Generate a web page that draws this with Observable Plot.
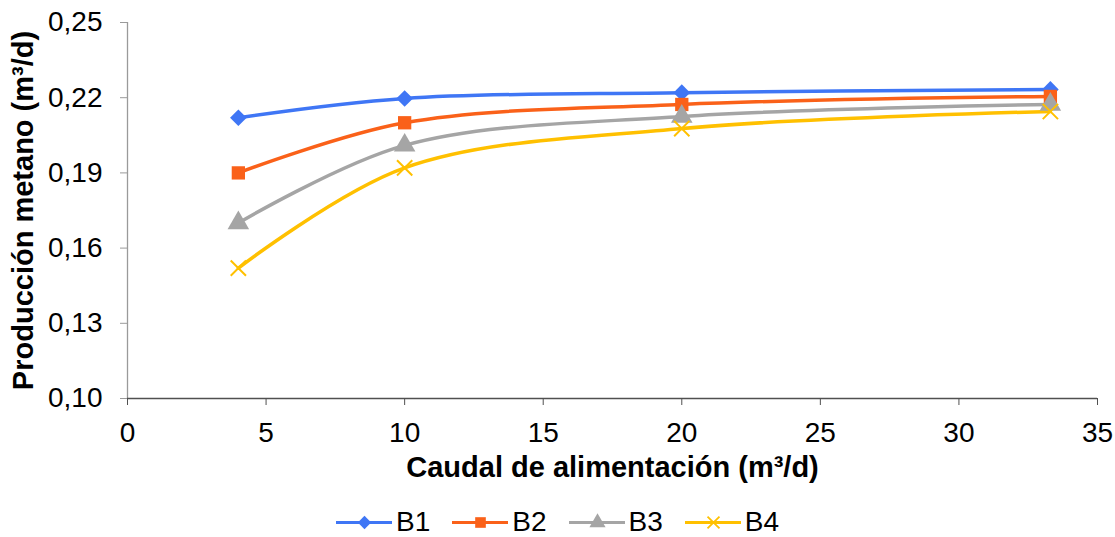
<!DOCTYPE html>
<html>
<head>
<meta charset="utf-8">
<script src="https://cdn.jsdelivr.net/npm/d3@7"></script>
<script src="https://cdn.jsdelivr.net/npm/@observablehq/plot@0.6"></script>
<style>
  html, body { margin: 0; padding: 0; background: #fff; }
  body { width: 1115px; height: 537px; overflow: hidden; font-family: "Liberation Sans", Arial, sans-serif; }
  #chart svg { display: block; }
  #legend { display: flex; justify-content: center; align-items: center; height: 34px; }
  .item { display: flex; align-items: center; margin: 0 11px; font-size: 28px; line-height: 34px; color: #000; }
  .item svg { margin-right: 4px; display: block; }
</style>
</head>
<body>
<div id="chart"></div>
<div id="legend"></div>
<script>
const xValues = [4, 10, 20, 33.3];
const seriesNames = ["B1", "B2", "B3", "B4"];
const b1 = [0.212, 0.2197, 0.222, 0.2233];
const b2 = [0.190, 0.210, 0.2173, 0.2205];
const b3 = [0.170, 0.201, 0.2125, 0.2173];
const b4 = [0.152, 0.192, 0.2077, 0.2145];
const xTicks = [0, 5, 10, 15, 20, 25, 30, 35];
const yTicks = [0.10, 0.13, 0.16, 0.19, 0.22, 0.25];
const xTitle = "Caudal de alimentación (m³/d)";
const yTitle = "Producción metano (m³/d)";

const colors = ["#3F76F5", "#FA6119", "#A5A5A5", "#FFC000"];
const symbols = ["diamond2", "square", "triangle", "times"];
const allSeries = [b1, b2, b3, b4];

const rows = [];
allSeries.forEach((vals, i) => vals.forEach((v, j) => rows.push({series: seriesNames[i], x: xValues[j], y: v})));

const fmt = d => d.toFixed(2).replace(".", ",");

const marks = [
  Plot.ruleX([0], {y1: 0.10, y2: 0.25, stroke: "#9a9a9a", strokeWidth: 1.3}),
  Plot.ruleY([0.10], {x1: 0, x2: 35, stroke: "#505050", strokeWidth: 1.3}),
  Plot.axisY({ticks: yTicks, tickFormat: fmt, tickSize: 7, tickPadding: 18, stroke: "#9a9a9a", fontSize: 28, label: null, fill: "#000"}),
  Plot.axisX({ticks: xTicks, tickFormat: d => String(d), tickSize: 7, tickPadding: 17, stroke: "#505050", fontSize: 28, label: null, fill: "#000"}),
  Plot.text([xTitle], {frameAnchor: "bottom", dy: 78, textAnchor: "middle", fontSize: 29, fontWeight: "bold", fill: "#000"}),
  Plot.text([yTitle], {frameAnchor: "left", dx: -104, rotate: -90, textAnchor: "middle", fontSize: 29, fontWeight: "bold", fill: "#000"})
];
seriesNames.forEach((name, i) => {
  const data = rows.filter(r => r.series === name);
  marks.push(Plot.line(data, {x: "x", y: "y", stroke: colors[i], strokeWidth: 3.5, curve: "catmull-rom"}));
});
seriesNames.forEach((name, i) => {
  const data = rows.filter(r => r.series === name);
  if (symbols[i] === "times") {
    marks.push(Plot.dot(data, {x: "x", y: "y", symbol: "times", r: 7, stroke: colors[i], strokeWidth: 2}));
  } else {
    marks.push(Plot.dot(data, {x: "x", y: "y", symbol: symbols[i], r: symbols[i] === "triangle" ? 8 : 7.5, fill: colors[i], stroke: "none"}));
  }
});

const chart = Plot.plot({
  width: 1115,
  height: 505,
  marginLeft: 127,
  marginRight: 18,
  marginTop: 22,
  marginBottom: 107,
  style: {fontFamily: "Liberation Sans, Arial, sans-serif", background: "#fff", overflow: "visible"},
  x: {domain: [0, 35]},
  y: {domain: [0.10, 0.25]},
  marks
});
document.getElementById("chart").appendChild(chart);

// legend
const legend = document.getElementById("legend");
seriesNames.forEach((name, i) => {
  const item = document.createElement("div");
  item.className = "item";
  const sw = Plot.plot({
    width: 56, height: 20, margin: 0,
    x: {domain: [0, 1], axis: null}, y: {domain: [0, 1], axis: null},
    style: {background: "transparent", overflow: "visible"},
    marks: [
      Plot.ruleY([0.5], {x1: 0, x2: 1, stroke: colors[i], strokeWidth: 3}),
      symbols[i] === "times"
        ? Plot.dot([0.5], {x: d => d, y: 0.5, symbol: "times", r: 5.5, stroke: colors[i], strokeWidth: 1.8})
        : Plot.dot([0.5], {x: d => d, y: 0.5, symbol: symbols[i], r: 6, fill: colors[i], stroke: "none"})
    ]
  });
  item.appendChild(sw);
  const label = document.createElement("span");
  label.textContent = name;
  item.appendChild(label);
  legend.appendChild(item);
});
</script>
</body>
</html>
